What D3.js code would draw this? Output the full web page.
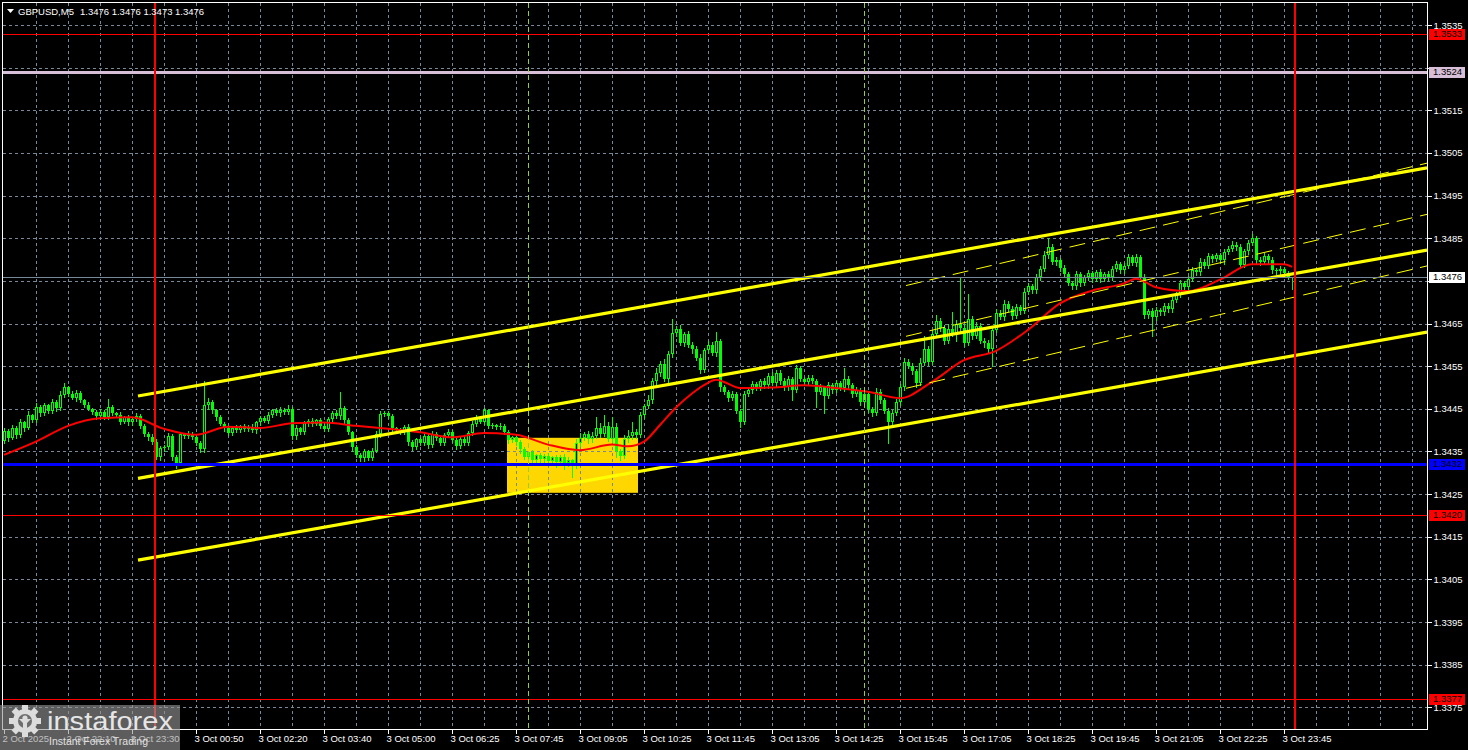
<!DOCTYPE html>
<html><head><meta charset="utf-8">
<script src="https://cdn.jsdelivr.net/npm/d3@7"></script>
<style>
html,body{margin:0;padding:0;background:#000;overflow:hidden}
svg{display:block}
text{font-family:"Liberation Sans",Arial,sans-serif}
</style></head><body>
<svg id="chart" width="1468" height="750"></svg>
<script>
// ---------------- DATA ----------------
const symbolTitle = "GBPUSD,M5";
const titleOHLC = ["1.3476", "1.3476", "1.3473", "1.3476"];
const firstOpen = 1.34375;
const closes = [
1.34398,1.34382,1.34405,1.34388,1.34418,1.34406,1.34435,1.34424,1.34455,1.34440,
1.34458,1.34445,1.34466,1.34452,1.34482,1.34500,1.34485,1.34476,1.34488,1.34470,
1.34460,1.34450,1.34443,1.34434,1.34442,1.34431,1.34455,1.34440,1.34436,1.34420,
1.34430,1.34418,1.34426,1.34434,1.34410,1.34392,1.34384,1.34372,1.34338,1.34358,
1.34360,1.34386,1.34336,1.34324,1.34390,1.34386,1.34392,1.34384,1.34370,1.34355,
1.34458,1.34465,1.34446,1.34430,1.34415,1.34405,1.34394,1.34406,1.34400,1.34410,
1.34403,1.34408,1.34401,1.34418,1.34428,1.34422,1.34435,1.34446,1.34439,1.34448,
1.34442,1.34450,1.34386,1.34405,1.34396,1.34416,1.34422,1.34415,1.34423,1.34410,
1.34402,1.34425,1.34440,1.34434,1.34452,1.34423,1.34395,1.34360,1.34342,1.34334,
1.34350,1.34335,1.34352,1.34390,1.34438,1.34440,1.34432,1.34404,1.34400,1.34396,
1.34408,1.34372,1.34360,1.34378,1.34370,1.34386,1.34365,1.34390,1.34382,1.34370,
1.34388,1.34396,1.34376,1.34363,1.34380,1.34370,1.34394,1.34415,1.34430,1.34420,
1.34446,1.34410,1.34412,1.34408,1.34410,1.34396,1.34376,1.34384,1.34372,1.34355,
1.34338,1.34348,1.34330,1.34342,1.34332,1.34340,1.34328,1.34336,1.34326,1.34338,
1.34324,1.34330,1.34316,1.34370,1.34382,1.34390,1.34378,1.34386,1.34405,1.34392,
1.34410,1.34380,1.34408,1.34350,1.34340,1.34378,1.34386,1.34396,1.34388,1.34435,
1.34456,1.34470,1.34515,1.34535,1.34555,1.34520,1.34578,1.34628,1.34638,1.34605,
1.34625,1.34600,1.34590,1.34570,1.34542,1.34588,1.34600,1.34580,1.34608,1.34500,
1.34490,1.34475,1.34484,1.34445,1.34420,1.34485,1.34495,1.34508,1.34500,1.34515,
1.34505,1.34528,1.34510,1.34535,1.34515,1.34500,1.34520,1.34495,1.34545,1.34520,
1.34513,1.34523,1.34515,1.34490,1.34500,1.34480,1.34506,1.34495,1.34510,1.34498,
1.34520,1.34505,1.34485,1.34495,1.34465,1.34485,1.34450,1.34440,1.34490,1.34470,
1.34445,1.34420,1.34440,1.34465,1.34500,1.34560,1.34550,1.34538,1.34510,1.34558,
1.34590,1.34560,1.34625,1.34655,1.34640,1.34610,1.34638,1.34625,1.34650,1.34640,
1.34605,1.34660,1.34620,1.34645,1.34610,1.34604,1.34590,1.34635,1.34675,1.34665,
1.34695,1.34685,1.34668,1.34688,1.34680,1.34725,1.34738,1.34728,1.34758,1.34778,
1.34810,1.34830,1.34795,1.34798,1.34780,1.34765,1.34745,1.34738,1.34765,1.34746,
1.34758,1.34768,1.34755,1.34770,1.34755,1.34766,1.34758,1.34778,1.34790,1.34775,
1.34785,1.34805,1.34793,1.34806,1.34760,1.34670,1.34680,1.34665,1.34682,1.34676,
1.34692,1.34684,1.34705,1.34718,1.34745,1.34735,1.34755,1.34775,1.34770,1.34795,
1.34785,1.34808,1.34802,1.34810,1.34798,1.34818,1.34825,1.34835,1.34830,1.34788,
1.34820,1.34838,1.34850,1.34800,1.34794,1.34808,1.34800,1.34775,1.34773,1.34778,
1.34768,1.34760,1.34760
];
// upper / lower shadow length of each candle, in pips
const wickUp = [
0.6,0.4,0.8,0.5,0.7,0.4,0.9,0.3,0.8,0.5, 0.6,0.4,0.7,0.5,0.9,1.0,0.4,0.6,0.5,0.3,
0.4,0.6,0.3,0.5,0.7,0.4,1.8,0.5,0.3,0.6, 0.4,0.5,0.3,0.6,0.4,0.5,0.3,0.6,0.8,0.5,
0.4,0.7,0.5,0.6,0.5,0.4,0.6,0.3,0.5,0.4, 5.7,1.0,0.6,0.4,0.5,0.3,0.6,0.4,0.5,0.3,
0.5,0.4,0.6,0.3,0.5,0.4,0.7,0.3,0.5,0.6, 0.4,1.0,0.5,0.6,0.3,0.5,0.4,0.6,0.3,0.5,
0.4,0.6,0.5,0.7,3.8,0.4,0.5,0.3,0.6,0.4, 0.5,0.3,0.6,0.8,0.6,0.5,0.4,0.6,0.3,0.5,
0.4,0.6,0.5,0.3,0.6,0.5,0.4,0.7,0.5,0.3, 0.5,0.6,0.4,0.5,0.3,0.6,0.5,0.7,0.5,0.4,
0.6,0.4,0.5,0.3,0.6,0.4,0.5,0.3,0.6,0.4, 0.5,0.4,0.6,0.3,0.5,0.4,0.6,0.3,0.5,0.4,
0.5,0.6,0.3,0.8,1.2,0.6,0.9,1.0,2.5,1.2, 2.5,1.0,2.2,0.8,0.6,1.0,1.5,2.4,0.6,0.8,
0.6,1.2,0.8,1.0,0.6,1.2,0.8,3.2,0.6,0.8, 0.5,0.8,0.6,0.7,0.8,0.5,0.9,0.6,2.2,0.5,
0.6,0.5,0.8,0.6,0.4,0.7,0.5,0.8,0.6,0.5, 0.7,0.5,0.8,0.6,0.5,0.7,0.6,0.5,0.8,0.6,
0.5,0.7,0.6,0.5,0.7,0.4,0.6,0.5,0.8,0.6, 2.5,0.6,0.5,0.7,0.4,0.6,0.5,0.4,0.8,0.6,
0.5,0.6,0.8,0.7,0.9,0.8,0.6,0.7,0.5,1.0, 3.0,0.8,1.0,1.5,0.8,0.6,1.0,4.0,0.8,11.0,
0.8,6.0,0.7,0.8,0.6,0.5,0.7,1.0,0.8,0.6, 0.9,0.7,0.5,0.8,0.6,0.9,0.7,0.5,0.8,0.6,
0.9,2.0,0.6,0.8,0.5,0.7,0.6,0.4,0.8,0.6, 0.5,0.7,0.6,0.5,0.7,0.4,0.6,0.8,0.7,0.5,
0.6,0.8,0.5,0.7,0.5,0.6,0.5,0.7,0.6,0.4, 0.6,0.5,0.7,0.6,0.8,0.5,0.6,0.7,0.5,0.8,
0.6,0.7,0.5,0.6,0.5,0.7,0.6,0.8,0.5,0.6, 0.5,0.7,1.0,0.6,0.5,0.7,0.6,0.5,0.4,0.6,
0.5,0.4,0.0
];
const wickDn = [
0.5,0.7,0.4,0.6,0.5,0.8,0.4,0.6,0.5,0.7, 0.4,0.6,0.5,0.7,0.4,0.5,0.6,0.4,0.7,0.5,
0.6,0.4,0.5,0.7,0.4,0.6,0.5,0.4,0.6,0.5, 0.4,0.6,0.5,0.4,0.6,0.5,0.7,0.5,0.6,0.8,
0.6,0.5,0.7,1.4,0.6,0.5,0.4,0.6,0.5,0.7, 0.6,0.8,0.5,0.6,0.4,0.7,0.5,0.6,0.4,0.5,
0.6,0.4,0.5,0.7,0.5,0.4,0.6,0.5,0.4,0.6, 0.5,0.4,0.8,0.6,0.5,0.4,0.6,0.5,0.4,0.6,
0.5,0.4,0.6,0.5,0.7,0.6,0.5,0.8,0.6,0.6, 0.7,0.5,0.6,0.4,0.5,0.6,0.4,0.5,0.6,0.4,
0.5,0.6,0.7,0.5,0.6,0.4,0.7,0.5,0.6,0.4, 0.6,0.5,0.4,0.7,0.5,0.6,0.4,0.5,0.6,0.4,
0.5,0.6,0.4,0.5,0.6,0.4,0.7,0.5,0.6,0.8, 0.6,1.2,0.5,0.8,0.6,1.0,0.5,0.7,1.3,0.6,
1.5,0.8,2.6,0.6,0.7,0.5,0.8,0.6,0.5,0.7, 0.6,0.5,0.8,1.4,1.0,0.6,0.5,0.7,0.6,0.5,
0.6,0.5,0.7,0.6,0.8,0.5,0.6,0.7,0.8,0.6, 0.7,0.6,0.8,0.5,0.9,0.6,0.7,0.5,0.6,0.8,
0.6,0.7,0.5,0.6,1.2,0.6,0.5,0.7,0.6,0.5, 0.6,0.7,0.5,0.6,0.8,0.6,0.7,2.5,0.6,0.5,
0.6,0.7,0.5,3.5,0.6,4.0,0.5,0.7,0.6,0.5, 0.6,0.7,0.8,0.5,0.6,0.7,0.8,0.6,0.5,0.7,
0.6,5.0,0.7,0.5,0.6,0.7,0.5,0.6,0.8,0.5, 0.6,0.7,0.5,0.6,0.7,0.8,0.6,0.5,1.5,0.7,
0.8,0.6,0.7,0.5,0.6,0.8,0.7,4.0,0.6,0.5, 0.7,0.6,0.8,0.5,0.7,0.6,0.5,0.7,0.6,0.5,
0.6,0.7,0.5,0.8,0.6,0.7,0.5,0.8,0.6,0.7, 0.6,0.5,0.7,0.6,0.8,0.5,0.6,0.7,0.5,0.6,
0.7,0.5,0.6,0.7,0.5,0.8,0.6,4.5,0.7,0.6, 0.5,0.7,0.6,0.5,0.7,0.6,0.8,0.5,0.6,0.7,
0.5,0.6,0.7,0.5,0.6,0.8,0.5,0.6,0.7,0.5, 0.6,0.7,0.5,0.8,0.6,0.5,0.7,0.6,0.8,0.6,
0.7,0.5,3.0
];
// moving average (red) read at bar positions
const maBars = [0,8,16,24,32,40,48,56,64,72,80,88,96,104,112,120,128,136,144,152,156,160,164,168,172,176,178,180,184,192,200,208,216,224,232,240,248,256,264,272,280,283,288,296,304,312,320,322];
const maValues = [1.34342,1.34373,1.34410,1.34428,1.34430,1.34403,1.34389,1.34408,1.34405,1.34416,1.34418,1.34410,1.34403,1.34395,1.34383,1.34393,1.34389,1.34366,1.34353,1.34366,1.34362,1.34373,1.34412,1.34453,1.34486,1.34511,1.34518,1.34513,1.34499,1.34500,1.34505,1.34499,1.34490,1.34475,1.34513,1.34564,1.34586,1.34635,1.34697,1.34727,1.34744,1.34755,1.34735,1.34726,1.34753,1.34789,1.34789,1.34783];
// time axis
const timeLabelBars = [0,16,32,48,64,80,96,112,128,144,160,176,192,208,224,240,256,272,288,304,320];
const timeLabels = ["2 Oct 2025","2 Oct 22:10","2 Oct 23:30","3 Oct 00:50","3 Oct 02:20","3 Oct 03:40","3 Oct 05:00","3 Oct 06:25","3 Oct 07:45","3 Oct 09:05","3 Oct 10:25","3 Oct 11:45","3 Oct 13:05","3 Oct 14:25","3 Oct 15:45","3 Oct 17:05","3 Oct 18:25","3 Oct 19:45","3 Oct 21:05","3 Oct 22:25","3 Oct 23:45"];
const priceTicks = [1.3375,1.3385,1.3395,1.3405,1.3415,1.3425,1.3435,1.3445,1.3455,1.3465,1.3475,1.3485,1.3495,1.3505,1.3515,1.3525,1.3535];
// horizontal levels
const levelPrices = [1.3533, 1.3524, 1.3476, 1.3432, 1.3420, 1.3377];
// equidistant channel (3 thick yellow lines)
const channelBars = [33.5, 355.75];
const channelTop = [1.34480, 1.35015];
const channelMid = [1.34287, 1.34822];
const channelBot = [1.34095, 1.34630];
// std-dev channel (dashed yellow)
const sdBars = [225.5, 355.75];
const sdUpper = [1.34739, 1.35026];
const sdMid = [1.34620, 1.34906];
const sdLower = [1.34498, 1.34785];
// rectangle
const boxBars = [125.75, 158.5];
const boxPrices = [1.34382, 1.34253];
// vertical lines
const redVLineBars = [37.75, 322.75];
const greenVLineBars = [131, 215];

// ---------------- STYLES ----------------
const levelColors = ["#ff0000", "#d8bfd8", "#778899", "#0000ff", "#ff0000", "#ff0000"];
const levelWidths = [1, 3, 1, 3, 1, 1];
const levelBoxFill = ["#ff0000", "#d8bfd8", "#ffffff", "#0000ff", "#ff0000", "#ff0000"];
const levelTextFill = ["#000000", "#000000", "#000000", "#000000", "#000000", "#000000"];
const FONT = 9.5;

// ---------------- CHART ----------------
const svg = d3.select("#chart");
const L = 3, T = 3, R = 1427, B = 729;
svg.append("rect").attr("width", 1468).attr("height", 750).attr("fill", "#000");

const x = d3.scaleLinear().domain([0, 355.75]).range([4, 1427]);
const y = d3.scaleLinear().domain([1.3375, 1.3535]).range([707.3, 25]);

svg.append("defs").append("clipPath").attr("id", "plot")
  .append("rect").attr("x", L).attr("y", T).attr("width", R - L).attr("height", B - T);
const plot = svg.append("g").attr("clip-path", "url(#plot)");

// rectangle (background object)
plot.append("rect")
  .attr("x", x(boxBars[0])).attr("y", y(boxPrices[0]))
  .attr("width", x(boxBars[1]) - x(boxBars[0]))
  .attr("height", y(boxPrices[1]) - y(boxPrices[0]))
  .attr("fill", "#ffd700");

// grid
const grid = plot.append("g").attr("stroke", "#778899").attr("stroke-width", 1)
  .attr("stroke-dasharray", "3,3").attr("shape-rendering", "crispEdges");
grid.selectAll("line.h").data(priceTicks).join("line").attr("class", "h")
  .attr("x1", L).attr("x2", R)
  .attr("y1", d => Math.round(y(d)) + 0.5).attr("y2", d => Math.round(y(d)) + 0.5);
grid.selectAll("line.v").data(d3.range(8, 356, 8)).join("line").attr("class", "v")
  .attr("y1", T).attr("y2", B)
  .attr("x1", d => Math.round(x(d)) + 0.5).attr("x2", d => Math.round(x(d)) + 0.5);

// candles
const bars = closes.map((c, i) => {
  const o = i === 0 ? firstOpen : closes[i - 1];
  return { i, o, c, h: Math.max(o, c) + wickUp[i] / 10000, l: Math.min(o, c) - wickDn[i] / 10000 };
});
const cg = plot.append("g").attr("shape-rendering", "crispEdges");
const candle = cg.selectAll("g").data(bars).join("g");
candle.append("line")
  .attr("x1", d => Math.round(x(d.i)) + 0.5).attr("x2", d => Math.round(x(d.i)) + 0.5)
  .attr("y1", d => Math.round(y(d.h))).attr("y2", d => Math.round(y(d.l)) + 1)
  .attr("stroke", "#00ff00");
candle.each(function (d) {
  const g = d3.select(this);
  const xc = Math.round(x(d.i));
  const top = Math.round(y(Math.max(d.o, d.c)));
  const bot = Math.round(y(Math.min(d.o, d.c)));
  const hgt = bot - top;
  if (d.c > d.o && hgt >= 2) {
    g.append("rect").attr("x", xc - 0.5).attr("y", top + 0.5).attr("width", 2).attr("height", hgt - 1)
      .attr("fill", "#000").attr("stroke", "#00ff00").attr("stroke-width", 1);
  } else {
    g.append("rect").attr("x", xc - 1).attr("y", top).attr("width", 3).attr("height", Math.max(1, hgt))
      .attr("fill", "#00ff00");
  }
});

// moving average
plot.append("path")
  .datum(maBars.map((b, k) => [b, maValues[k]]))
  .attr("d", d3.line().x(d => x(d[0])).y(d => y(d[1])).curve(d3.curveMonotoneX))
  .attr("fill", "none").attr("stroke", "#ff0000").attr("stroke-width", 2);

// std dev channel (dashed)
[sdUpper, sdMid, sdLower].forEach(p => {
  plot.append("line")
    .attr("x1", x(sdBars[0])).attr("x2", x(sdBars[1]))
    .attr("y1", y(p[0])).attr("y2", y(p[1]))
    .attr("stroke", "#ffff00").attr("stroke-width", 1).attr("stroke-dasharray", "16,8");
});
// equidistant channel
[channelTop, channelMid, channelBot].forEach(p => {
  plot.append("line")
    .attr("x1", x(channelBars[0])).attr("x2", x(channelBars[1]))
    .attr("y1", y(p[0])).attr("y2", y(p[1]))
    .attr("stroke", "#ffff00").attr("stroke-width", 3.2);
});

// horizontal levels
levelPrices.forEach((p, k) => {
  const yy = Math.round(y(p)) + (levelWidths[k] % 2 ? 0.5 : 0);
  plot.append("line").attr("x1", L).attr("x2", R).attr("y1", yy).attr("y2", yy)
    .attr("stroke", levelColors[k]).attr("stroke-width", levelWidths[k]).attr("shape-rendering", "crispEdges");
});

// vertical lines
greenVLineBars.forEach(b => {
  plot.append("line").attr("x1", Math.round(x(b)) + 0.5).attr("x2", Math.round(x(b)) + 0.5)
    .attr("y1", T).attr("y2", B).attr("stroke", "#9acd32").attr("stroke-width", 1)
    .attr("stroke-dasharray", "5,3").attr("shape-rendering", "crispEdges");
});
redVLineBars.forEach(b => {
  plot.append("line").attr("x1", x(b)).attr("x2", x(b))
    .attr("y1", T).attr("y2", B).attr("stroke", "#ff0000").attr("stroke-width", 2)
    .attr("shape-rendering", "crispEdges");
});

// frame
svg.append("rect").attr("x", L - 0.5).attr("y", T - 0.5).attr("width", R - L + 1).attr("height", B - T + 1)
  .attr("fill", "none").attr("stroke", "#ffffff").attr("stroke-width", 1).attr("shape-rendering", "crispEdges");

// price axis (labels covered by a level's price box are not printed, as in the terminal)
const coveredByLevel = t => levelPrices.some(p => Math.abs(y(p) - y(t)) < 5);
const yAxis = svg.append("g").attr("transform", `translate(${R + 0.5},0)`)
  .call(d3.axisRight(y).tickValues(priceTicks)
    .tickFormat(t => coveredByLevel(t) ? "" : d3.format(".4f")(t))
    .tickSize(4).tickSizeOuter(0).tickPadding(2));
yAxis.select(".domain").remove();
yAxis.selectAll("line").attr("stroke", "#fff").attr("shape-rendering", "crispEdges");
yAxis.selectAll("text").attr("fill", "#fff").style("font-size", FONT + "px").style("font-family", '"Liberation Sans",Arial,sans-serif');

// time axis
const xAxis = svg.append("g").attr("transform", `translate(0,${B + 0.5})`)
  .call(d3.axisBottom(x).tickValues(timeLabelBars).tickFormat((d, k) => timeLabels[k]).tickSize(4).tickSizeOuter(0).tickPadding(2));
xAxis.select(".domain").remove();
xAxis.selectAll("line").attr("stroke", "#fff").attr("shape-rendering", "crispEdges");
xAxis.selectAll("text").attr("fill", "#fff").attr("text-anchor", "start").attr("dx", -2)
  .style("font-size", FONT + "px").style("font-family", '"Liberation Sans",Arial,sans-serif');

// level price labels on axis
levelPrices.forEach((p, k) => {
  const yy = Math.round(y(p));
  svg.append("rect").attr("x", R + 2).attr("y", yy - 5).attr("width", 36).attr("height", 11)
    .attr("fill", levelBoxFill[k]);
  svg.append("text").attr("x", R + 6).attr("y", yy).attr("dy", "0.35em")
    .attr("fill", levelTextFill[k]).style("font-size", FONT + "px").text(d3.format(".4f")(p));
});

// header
svg.append("path").attr("d", "M7,9 L14,9 L10.5,13 Z").attr("fill", "#fff");
svg.append("text").attr("x", 18).attr("y", 14.5).attr("fill", "#fff").style("font-size", FONT + "px").text(symbolTitle);
svg.append("text").attr("x", 80).attr("y", 14.5).attr("fill", "#fff").style("font-size", FONT + "px")
  .attr("xml:space", "preserve").text(titleOHLC.join(" "));

// logo watermark
const logo = svg.append("g");
logo.append("rect").attr("x", 0).attr("y", 705).attr("width", 180).attr("height", 45)
  .attr("fill", "rgb(150,150,150)").attr("fill-opacity", 0.62);
const gx = 25, gy = 721;
const gear = logo.append("g").attr("fill", "#dcdcdc");
d3.range(8).forEach(k => {
  gear.append("rect").attr("x", gx - 3).attr("y", gy - 16).attr("width", 6).attr("height", 8)
    .attr("transform", `rotate(${k * 45},${gx},${gy})`);
});
gear.append("circle").attr("cx", gx).attr("cy", gy).attr("r", 12);
logo.append("circle").attr("cx", gx).attr("cy", gy).attr("r", 7).attr("fill", "rgb(110,110,110)");
logo.append("circle").attr("cx", gx).attr("cy", gy - 3).attr("r", 2.6).attr("fill", "#dcdcdc");
logo.append("path").attr("d", `M${gx - 6},${gy - 2} L${gx + 6},${gy - 2} L${gx + 2},${gy + 2} L${gx + 2},${gy + 12} L${gx - 2},${gy + 12} L${gx - 2},${gy + 2} Z`).attr("fill", "#dcdcdc");
logo.append("text").attr("x", 47).attr("y", 730).attr("fill", "#e6e6e6")
  .attr("textLength", 126).attr("lengthAdjust", "spacingAndGlyphs")
  .style("font-size", "25px").text("instaforex");
logo.append("text").attr("x", 49).attr("y", 745).attr("fill", "#e0e0e0")
  .attr("textLength", 99).attr("lengthAdjust", "spacingAndGlyphs")
  .style("font-size", "10.5px").text("Instant Forex Trading");
</script>
</body></html>
